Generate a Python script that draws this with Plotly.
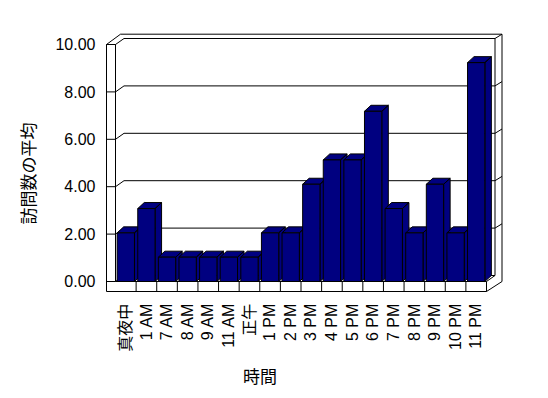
import plotly.graph_objects as go

# ---------------- data ----------------
CATEGORIES = ["真夜中", "1 AM", "7 AM", "8 AM", "9 AM", "11 AM", "正午", "1 PM", "2 PM",
              "3 PM", "4 PM", "5 PM", "6 PM", "7 PM", "8 PM", "9 PM", "10 PM", "11 PM"]
VISITS = [2, 3, 1, 1, 1, 1, 1, 2, 2, 4, 5, 5, 7, 3, 2, 4, 2, 9]
Y_TICKS = [0, 2, 4, 6, 8, 10]
Y_TICK_LABELS = ["0.00", "2.00", "4.00", "6.00", "8.00", "10.00"]
X_TITLE = "時間"
Y_TITLE = "訪問数の平均"

# ---------------- geometry (screen pixels) ----------------
W, H = 548, 398
PAGE_OFF = 8                                       # default body margin of the page
N = len(CATEGORIES)
CAT_LEFT_PX, CAT_RIGHT_PX = 115.5, 486.5          # floor front edge (category span)
CW = (CAT_RIGHT_PX - CAT_LEFT_PX) / N              # px per category
AX_ZERO_PX, AX_TOP_PX, AX_MAX = 281.5, 44.5, 10   # front value axis
AX_PPU = (AX_ZERO_PX - AX_TOP_PX) / AX_MAX
PERSPECTIVE = 1.026                                # bars sit slightly nearer the viewer
BAR_ZERO_PX = 281.5
BAR_PPU = AX_PPU * PERSPECTIVE
BARGAP = 0.16
BAR_DX_PX, BAR_DY_PX = 6.5, 6.0                    # depth of the bars
WALL_DX_PX, WALL_DY_PX = 8.5, 6.0                  # depth of the floor
WALL_FRONT_L = 106.5                               # left wall slab front face
WALL_FRONT_R = CAT_LEFT_PX
FLOOR_BOTTOM = 291.5
NAVY = "#000080"
FONT = "Liberation Sans, Noto Sans CJK JP, sans-serif"

# plot area covers the whole figure, which starts at PAGE_OFF on screen
SX0, SX1 = PAGE_OFF, PAGE_OFF + W
SY0, SY1 = PAGE_OFF, PAGE_OFF + H
X_RANGE = [-0.5 - (CAT_LEFT_PX - SX0) / CW, -0.5 + (SX1 - CAT_LEFT_PX) / CW]
BAR_RANGE = [(BAR_ZERO_PX - SY1) / BAR_PPU, (BAR_ZERO_PX - SY0) / BAR_PPU]
AX_RANGE = [(AX_ZERO_PX - SY1) / AX_PPU, (AX_ZERO_PX - SY0) / AX_PPU]


def px(x):
    return (x - SX0) / W


def py(y):
    return 1 - (y - SY0) / H


fig = go.Figure()

# ---- 3D top and side faces of the bars (drawn under the front faces) ----
half = (1 - BARGAP) / 2
ddx = BAR_DX_PX / CW
ddy = BAR_DY_PX / BAR_PPU
for i, v in enumerate(VISITS):
    l, r = i - half, i + half
    xs = [l, r, r + ddx, l + ddx, l, None, r, r + ddx, r + ddx, r, r]
    ys = [v, v, v + ddy, v + ddy, v, None, 0, ddy, v + ddy, v, 0]
    fig.add_trace(go.Scatter(x=xs, y=ys, xaxis="x", yaxis="y", mode="lines",
                             fill="toself", fillcolor=NAVY,
                             line=dict(color="black", width=1),
                             hoverinfo="skip", showlegend=False))

# ---- front faces of the bars ----
fig.add_trace(go.Bar(x=list(range(N)), y=VISITS, xaxis="x2", yaxis="y2",
                     marker=dict(color=NAVY, line=dict(color="black", width=1)),
                     hoverinfo="skip", showlegend=False))

# ---- helper trace so the value axis is drawn ----
fig.add_trace(go.Scatter(x=[0], y=[0], xaxis="x", yaxis="y3", mode="markers",
                         marker=dict(opacity=0), hoverinfo="skip", showlegend=False))

# ---------------- frame (walls + floor) ----------------
shapes = []


def seg(x0, y0, x1, y1):
    shapes.append(dict(type="line", xref="paper", yref="paper",
                       x0=px(x0), y0=py(y0), x1=px(x1), y1=py(y1),
                       line=dict(color="black", width=1), layer="below"))


def gseg(x0, v0, x1, v1):
    shapes.append(dict(type="line", xref="paper", yref="y3",
                       x0=px(x0), y0=v0, x1=px(x1), y1=v1,
                       line=dict(color="black", width=1), layer="below"))


back_l = WALL_FRONT_R + WALL_DX_PX
back_r = CAT_RIGHT_PX + WALL_DX_PX
outer_r = back_r + 7
outer_top = AX_TOP_PX - WALL_DY_PX - 4.3

# left wall slab
seg(WALL_FRONT_L, AX_TOP_PX, WALL_FRONT_L, FLOOR_BOTTOM)
seg(WALL_FRONT_R, AX_TOP_PX, WALL_FRONT_R, AX_ZERO_PX)
seg(WALL_FRONT_L, AX_TOP_PX, WALL_FRONT_R, AX_TOP_PX)
seg(WALL_FRONT_L, AX_TOP_PX, WALL_FRONT_L + 14, outer_top)
# back wall slab
seg(WALL_FRONT_L + 14, outer_top, outer_r, outer_top)
seg(back_r, AX_TOP_PX - WALL_DY_PX, back_r, AX_ZERO_PX - WALL_DY_PX)
seg(outer_r, outer_top, outer_r, AX_ZERO_PX)
# floor slab
seg(WALL_FRONT_R, AX_ZERO_PX, CAT_RIGHT_PX, AX_ZERO_PX)
seg(WALL_FRONT_L, FLOOR_BOTTOM, CAT_RIGHT_PX, FLOOR_BOTTOM)
seg(CAT_RIGHT_PX, AX_ZERO_PX, CAT_RIGHT_PX, FLOOR_BOTTOM)
seg(CAT_RIGHT_PX, AX_ZERO_PX, back_r, AX_ZERO_PX - WALL_DY_PX)
seg(CAT_RIGHT_PX, FLOOR_BOTTOM, outer_r, AX_ZERO_PX)
# category tick marks on the floor front
for k in range(1, N):
    xk = CAT_LEFT_PX + k * CW
    seg(xk, AX_ZERO_PX, xk, FLOOR_BOTTOM)

# gridlines: front tick, diagonal across the wall, line across back wall
dv = WALL_DY_PX / AX_PPU
for v in Y_TICKS:
    gseg(WALL_FRONT_L, v, WALL_FRONT_R, v)
    gseg(WALL_FRONT_R, v, back_l, v + dv)
    gseg(back_l, v + dv, back_r, v + dv)
    if v > 0:
        gseg(back_r, v + dv, outer_r, v + dv + 4.3 / AX_PPU)

fig.update_layout(
    width=W, height=H, autosize=False, template="none",
    margin=dict(l=0, r=0, t=0, b=0, pad=0),
    paper_bgcolor="white", plot_bgcolor="white",
    showlegend=False, bargap=BARGAP,
    font=dict(family=FONT, size=16, color="black"),
    shapes=shapes,
    xaxis=dict(domain=[0, 1], range=X_RANGE, showgrid=False, zeroline=False,
               showline=False, showticklabels=False, ticks="", automargin=False,
               fixedrange=True),
    yaxis=dict(domain=[0, 1], range=BAR_RANGE, showgrid=False, zeroline=False,
               showline=False, showticklabels=False, ticks="", automargin=False,
               fixedrange=True),
    xaxis2=dict(overlaying="x", range=X_RANGE, anchor="free", position=py(FLOOR_BOTTOM),
                side="bottom", tickmode="array", tickvals=list(range(N)),
                ticktext=CATEGORIES, tickangle=-90, ticks="", showgrid=False,
                zeroline=False, showline=False, automargin=False,
                ticklabelstandoff=8,
                tickfont=dict(family=FONT, size=16, color="black"), fixedrange=True),
    yaxis2=dict(overlaying="y", range=BAR_RANGE, showgrid=False, zeroline=False,
                showline=False, showticklabels=False, ticks="", automargin=False,
                fixedrange=True),
    yaxis3=dict(overlaying="y", range=AX_RANGE, anchor="free", position=px(WALL_FRONT_L),
                side="left", tickmode="array", tickvals=Y_TICKS, ticktext=Y_TICK_LABELS,
                ticks="", showgrid=False, zeroline=False, showline=False,
                automargin=False, ticklabelstandoff=11,
                tickfont=dict(family=FONT, size=16, color="black"), fixedrange=True),
    annotations=[
        dict(text=X_TITLE, xref="paper", yref="paper", x=px(260), y=py(377.5),
             showarrow=False, xanchor="center", yanchor="middle",
             font=dict(family=FONT, size=17, color="black")),
        dict(text=Y_TITLE, xref="paper", yref="paper", x=px(29), y=py(173.5),
             showarrow=False, xanchor="center", yanchor="middle", textangle=-90,
             font=dict(family=FONT, size=17, color="black")),
    ],
)

fig.write_html("out.html")
